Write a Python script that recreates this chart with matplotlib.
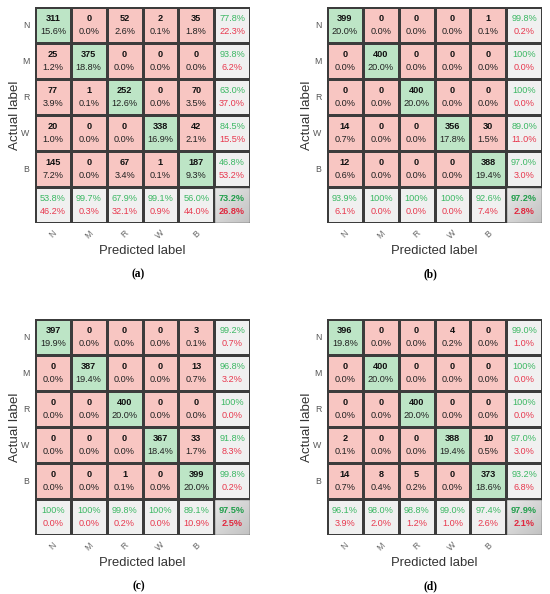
import numpy as np
import matplotlib
matplotlib.use("Agg")
import matplotlib.pyplot as plt
from matplotlib.colors import ListedColormap

classes = ["N", "M", "R", "W", "B"]
panel_names = ["(a)", "(b)", "(c)", "(d)"]

counts_a = [[311, 0, 52, 2, 35], [25, 375, 0, 0, 0], [77, 1, 252, 0, 70], [20, 0, 0, 338, 42], [145, 0, 67, 1, 187]]
pct_a = [[15.6, 0.0, 2.6, 0.1, 1.8], [1.2, 18.8, 0.0, 0.0, 0.0], [3.9, 0.1, 12.6, 0.0, 3.5], [1.0, 0.0, 0.0, 16.9, 2.1], [7.2, 0.0, 3.4, 0.1, 9.3]]
row_good_a = [77.8, 93.8, 63.0, 84.5, 46.8]
row_bad_a = [22.3, 6.2, 37.0, 15.5, 53.2]
col_good_a = [53.8, 99.7, 67.9, 99.1, 56.0]
col_bad_a = [46.2, 0.3, 32.1, 0.9, 44.0]
overall_a = [73.2, 26.8]

counts_b = [[399, 0, 0, 0, 1], [0, 400, 0, 0, 0], [0, 0, 400, 0, 0], [14, 0, 0, 356, 30], [12, 0, 0, 0, 388]]
pct_b = [[20.0, 0.0, 0.0, 0.0, 0.1], [0.0, 20.0, 0.0, 0.0, 0.0], [0.0, 0.0, 20.0, 0.0, 0.0], [0.7, 0.0, 0.0, 17.8, 1.5], [0.6, 0.0, 0.0, 0.0, 19.4]]
row_good_b = [99.8, 100, 100, 89.0, 97.0]
row_bad_b = [0.2, 0.0, 0.0, 11.0, 3.0]
col_good_b = [93.9, 100, 100, 100, 92.6]
col_bad_b = [6.1, 0.0, 0.0, 0.0, 7.4]
overall_b = [97.2, 2.8]

counts_c = [[397, 0, 0, 0, 3], [0, 387, 0, 0, 13], [0, 0, 400, 0, 0], [0, 0, 0, 367, 33], [0, 0, 1, 0, 399]]
pct_c = [[19.9, 0.0, 0.0, 0.0, 0.1], [0.0, 19.4, 0.0, 0.0, 0.7], [0.0, 0.0, 20.0, 0.0, 0.0], [0.0, 0.0, 0.0, 18.4, 1.7], [0.0, 0.0, 0.1, 0.0, 20.0]]
row_good_c = [99.2, 96.8, 100, 91.8, 99.8]
row_bad_c = [0.7, 3.2, 0.0, 8.3, 0.2]
col_good_c = [100, 100, 99.8, 100, 89.1]
col_bad_c = [0.0, 0.0, 0.2, 0.0, 10.9]
overall_c = [97.5, 2.5]

counts_d = [[396, 0, 0, 4, 0], [0, 400, 0, 0, 0], [0, 0, 400, 0, 0], [2, 0, 0, 388, 10], [14, 8, 5, 0, 373]]
pct_d = [[19.8, 0.0, 0.0, 0.2, 0.0], [0.0, 20.0, 0.0, 0.0, 0.0], [0.0, 0.0, 20.0, 0.0, 0.0], [0.1, 0.0, 0.0, 19.4, 0.5], [0.7, 0.4, 0.2, 0.0, 18.6]]
row_good_d = [99.0, 100, 100, 97.0, 93.2]
row_bad_d = [1.0, 0.0, 0.0, 3.0, 6.8]
col_good_d = [96.1, 98.0, 98.8, 99.0, 97.4]
col_bad_d = [3.9, 2.0, 1.2, 1.0, 2.6]
overall_d = [97.9, 2.1]

panels = [
    (counts_a, pct_a, row_good_a, row_bad_a, col_good_a, col_bad_a, overall_a),
    (counts_b, pct_b, row_good_b, row_bad_b, col_good_b, col_bad_b, overall_b),
    (counts_c, pct_c, row_good_c, row_bad_c, col_good_c, col_bad_c, overall_c),
    (counts_d, pct_d, row_good_d, row_bad_d, col_good_d, col_bad_d, overall_d),
]

RED_CELL = "#f8c6c2"
GREEN_CELL = "#bde5c6"
GRAY_CELL = "#f0f0f0"
GREEN_TXT = "#3cb864"
RED_TXT = "#e8394f"
EDGE = "#3c3c3c"
FONT = ["Liberation Sans", "DejaVu Sans"]
FS = 6.6

fig = plt.figure(figsize=(5.5, 5.94), dpi=100)

W, H = 550, 594
boxes = [(35, 7), (327, 7), (35, 319), (327, 319)]
gw, gh = 215, 216


def fmt_summary(v):
    return "100%" if v >= 100 else f"{v:.1f}%"


for k, ((cnt, pct, rg, rb, cg, cb, ov), (x0, y0)) in enumerate(zip(panels, boxes)):
    ax = fig.add_axes([x0 / W, 1 - (y0 + gh) / H, gw / W, gh / H])
    n = len(classes)
    cat = np.zeros((n + 1, n + 1))
    for i in range(n):
        cat[i, i] = 1
    cat[n, :] = 2
    cat[:, n] = 2
    cmap = ListedColormap([RED_CELL, GREEN_CELL, GRAY_CELL])
    ax.pcolormesh(np.arange(n + 2), np.arange(n + 2), cat, cmap=cmap,
                  vmin=-0.5, vmax=2.5, edgecolors=EDGE, linewidth=1.0)
    # gradient in overall cell
    gx, gy = np.meshgrid(np.linspace(0, 1, 50), np.linspace(0, 1, 50))
    grad = 0.5 * (gx + gy)
    ax.imshow(grad, extent=(n, n + 1, n + 1, n), cmap=ListedColormap(
        plt.cm.gray(np.linspace(0.91, 0.76, 64))), vmin=0, vmax=1,
        aspect="auto", zorder=2, interpolation="bilinear")
    for xx in range(n + 2):
        ax.plot([xx, xx], [0, n + 1], color=EDGE, lw=1.0, zorder=3)
        ax.plot([0, n + 1], [xx, xx], color=EDGE, lw=1.0, zorder=3)
    for i in range(n):
        for j in range(n):
            ax.text(j + 0.5, i + 0.33, str(cnt[i][j]), ha="center", va="center",
                    fontsize=FS, fontweight="bold", family=FONT, color="#111111", zorder=4)
            ax.text(j + 0.5, i + 0.67, f"{pct[i][j]:.1f}%", ha="center", va="center",
                    fontsize=FS, family=FONT, color="#222222", zorder=4)
        ax.text(n + 0.5, i + 0.33, fmt_summary(rg[i]), ha="center", va="center",
                fontsize=FS, family=FONT, color=GREEN_TXT, zorder=4)
        ax.text(n + 0.5, i + 0.67, fmt_summary(rb[i]), ha="center", va="center",
                fontsize=FS, family=FONT, color=RED_TXT, zorder=4)
        ax.text(i + 0.5, n + 0.33, fmt_summary(cg[i]), ha="center", va="center",
                fontsize=FS, family=FONT, color=GREEN_TXT, zorder=4)
        ax.text(i + 0.5, n + 0.67, fmt_summary(cb[i]), ha="center", va="center",
                fontsize=FS, family=FONT, color=RED_TXT, zorder=4)
    ax.text(n + 0.5, n + 0.33, fmt_summary(ov[0]), ha="center", va="center",
            fontsize=FS, fontweight="bold", family=FONT, color="#1f9e4a", zorder=4)
    ax.text(n + 0.5, n + 0.67, fmt_summary(ov[1]), ha="center", va="center",
            fontsize=FS, fontweight="bold", family=FONT, color="#e0283f", zorder=4)

    ax.set_xlim(0, n + 1)
    ax.set_ylim(n + 1, 0)
    ax.set_xticks(np.arange(n) + 0.5)
    ax.set_yticks(np.arange(n) + 0.5)
    ax.set_xticklabels(classes, rotation=45, fontsize=6.3, color="#666666", family=FONT)
    ax.set_yticklabels(classes, fontsize=6.3, color="#555555", family=FONT)
    ax.tick_params(length=0, pad=4)
    for s in ax.spines.values():
        s.set_visible(False)
    ax.set_xlabel("Predicted label", fontsize=9.4, family=FONT, color="#333333", labelpad=3)
    ax.set_ylabel("Actual label", fontsize=9.6, family=FONT, color="#333333", labelpad=0)
    fig.text((x0 + gw / 2 - 4) / W, 1 - (y0 + 267) / H, panel_names[k],
             ha="center", va="center", fontsize=8.3, fontweight="bold",
             family=["Liberation Serif", "DejaVu Serif"])

fig.savefig("out.png", dpi=100)
